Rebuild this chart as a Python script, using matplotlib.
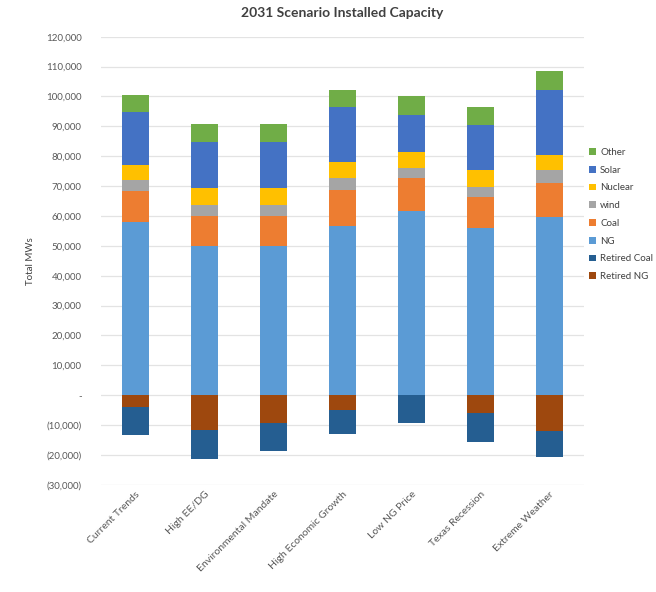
import numpy as np
import matplotlib.pyplot as plt
from matplotlib.ticker import FuncFormatter

plt.rcParams['font.family'] = ['Lato', 'DejaVu Sans']

scenarios = ['Current Trends', 'High EE/DG', 'Environmental Mandate', 'High Economic Growth',
             'Low NG Price', 'Texas Recession', 'Extreme Weather']

# installed capacity (MW), stacked upward
ng = [58000, 49800, 49800, 56800, 61800, 56000, 59600]
coal = [10500, 10300, 10300, 11900, 10800, 10300, 11400]
wind = [3500, 3700, 3700, 3900, 3400, 3500, 4400]
nuclear = [5200, 5500, 5500, 5400, 5500, 5600, 5100]
solar = [17500, 15400, 15400, 18400, 12400, 15200, 21800]
other = [5900, 6100, 6100, 5900, 6200, 6000, 6100]

# retirements (MW), stacked downward
retired_ng = [-3800, -11500, -9200, -4900, 0, -5900, -12000]
retired_coal = [-9400, -10000, -9500, -8000, -9200, -9600, -8700]

colors = {
    'NG': '#5B9BD5', 'Coal': '#ED7D31', 'wind': '#A5A5A5', 'Nuclear': '#FFC000',
    'Solar': '#4472C4', 'Other': '#70AD47', 'Retired Coal': '#255E91', 'Retired NG': '#9E480E',
}

fig = plt.figure(figsize=(6.56, 5.92), dpi=100)
ax = fig.add_axes([0.154, 0.181, 0.736, 0.757])

x = np.arange(len(scenarios))
w = 0.39
bars = {}
bottom = np.zeros(len(x))
for name, vals in [('NG', ng), ('Coal', coal), ('wind', wind), ('Nuclear', nuclear),
                   ('Solar', solar), ('Other', other)]:
    bars[name] = ax.bar(x, vals, w, bottom=bottom, color=colors[name], label=name, zorder=3)
    bottom = bottom + np.array(vals)

neg = np.zeros(len(x))
for name, vals in [('Retired NG', retired_ng), ('Retired Coal', retired_coal)]:
    bars[name] = ax.bar(x, vals, w, bottom=neg, color=colors[name], label=name, zorder=3)
    neg = neg + np.array(vals)

ax.set_xlim(-0.5, len(x) - 0.5)
ax.set_ylim(-30000, 120000)
ax.set_yticks(np.arange(-30000, 120001, 10000))


def fmt(v, pos):
    if v == 0:
        return '-'
    if v < 0:
        return '({:,.0f})'.format(-v)
    return '{:,.0f}'.format(v)


ax.yaxis.set_major_formatter(FuncFormatter(fmt))
ax.grid(axis='y', color='#E3E3E3', lw=0.9, zorder=0)
for s in ax.spines.values():
    s.set_visible(False)
ax.tick_params(length=0, labelsize=7, colors='#595959')
ax.tick_params(axis='y', pad=14)
ax.set_xticks(x)
ax.set_xticklabels(scenarios, rotation=45, ha='right', rotation_mode='anchor', fontsize=7.5)
ax.set_ylabel('Total MWs', fontsize=7, color='#404040', labelpad=8)
ax.set_title('2031 Scenario Installed Capacity', fontsize=10, fontweight='bold',
             color='#404040', pad=14)

order = ['Other', 'Solar', 'Nuclear', 'wind', 'Coal', 'NG', 'Retired Coal', 'Retired NG']
leg = fig.legend([bars[n] for n in order], order, loc='upper left',
                 bbox_to_anchor=(0.885, 0.765), frameon=False, fontsize=7,
                 handlelength=0.7, handleheight=0.7, handletextpad=0.4, labelspacing=0.9)
for t in leg.get_texts():
    t.set_color('#404040')

fig.savefig('out.png', dpi=100)
